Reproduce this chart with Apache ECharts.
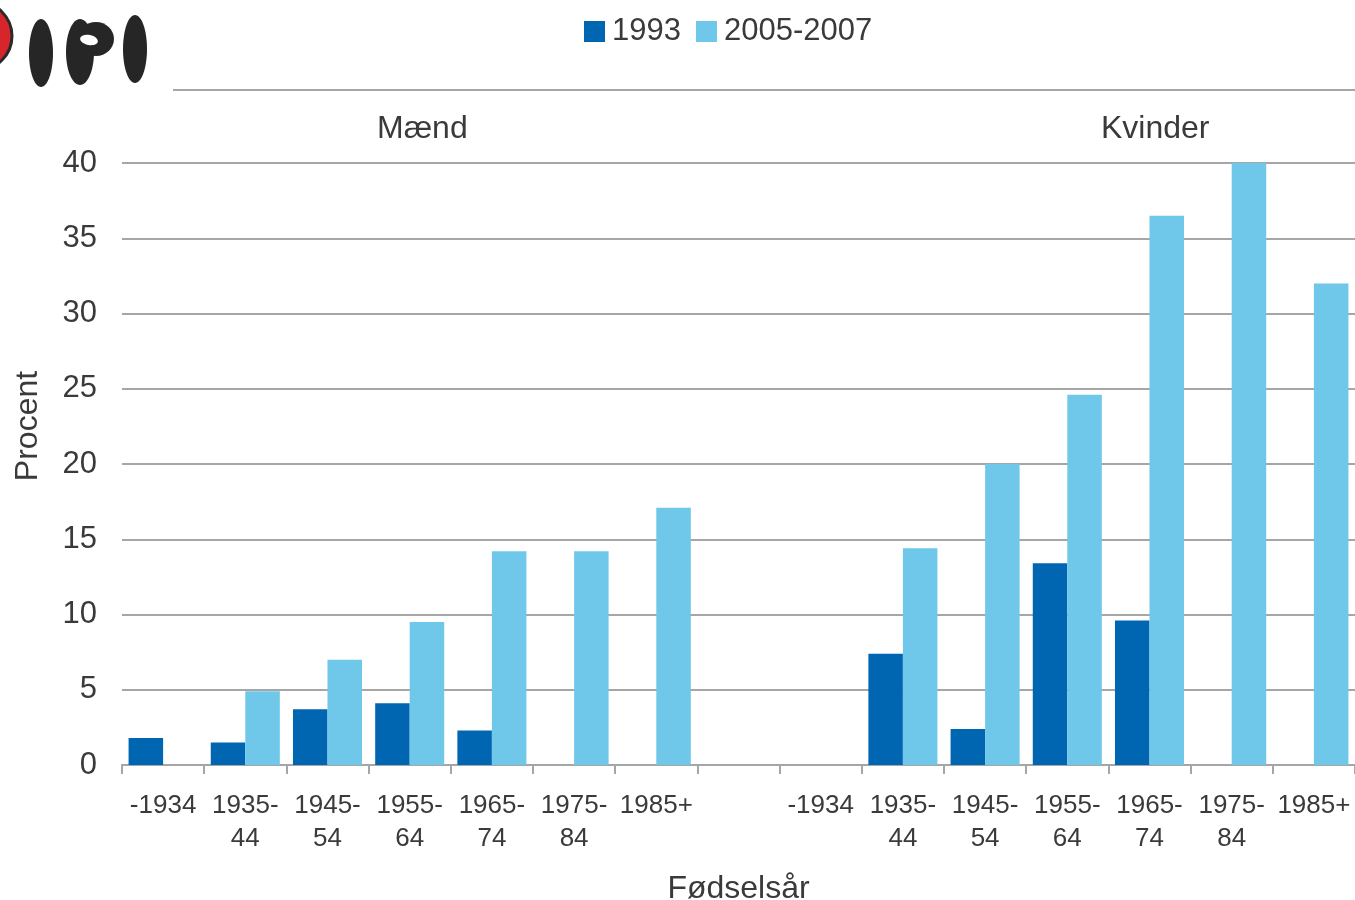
<!DOCTYPE html>
<html>
<head>
<meta charset="utf-8">
<script src="https://cdn.jsdelivr.net/npm/echarts@6/dist/echarts.min.js"></script>
<style>
  html, body { margin: 0; padding: 0; background: #fff; }
  #chart { width: 1355px; height: 900px; }
</style>
</head>
<body>
<div id="chart"></div>
<script>
const categories = [
  "-1934", "1935-\n44", "1945-\n54", "1955-\n64", "1965-\n74", "1975-\n84", "1985+",
  "",
  "-1934", "1935-\n44", "1945-\n54", "1955-\n64", "1965-\n74", "1975-\n84", "1985+"
];
const values1993 = [1.8, 1.5, 3.7, 4.1, 2.3, null, null, null, null, 7.4, 2.4, 13.4, 9.6, null, null];
const values2005 = [null, 4.9, 7.0, 9.5, 14.2, 14.2, 17.1, null, null, 14.4, 20.0, 24.6, 36.5, 40.0, 32.0];
const groupLabels = ["Mænd", "Kvinder"];

const FONT = "'Liberation Sans', Arial, sans-serif";
const TEXT = "#3a3a3a";
const GRID = "#a6a6a6";

const chart = echarts.init(document.getElementById("chart"));

chart.setOption({
  animation: false,
  textStyle: { fontFamily: FONT, color: TEXT },
  legend: {
    left: 579,
    top: 11,
    icon: "rect",
    itemWidth: 21,
    itemHeight: 21,
    itemGap: 15,
    textStyle: { fontFamily: FONT, fontSize: 31, color: TEXT, padding: [0, 0, 0, 2] },
    data: ["1993", "2005-2007"]
  },
  grid: { left: 122, right: 0, top: 163, bottom: 135, containLabel: false, outerBoundsMode: "none" },
  xAxis: {
    type: "category",
    data: categories,
    name: "Fødselsår",
    nameLocation: "middle",
    nameGap: 108,
    nameTextStyle: { fontFamily: FONT, fontSize: 32, color: TEXT },
    axisLine: { show: true, lineStyle: { color: GRID, width: 2 } },
    axisTick: { show: true, length: 9, lineStyle: { color: GRID, width: 2 } },
    axisLabel: {
      interval: 0,
      margin: 24,
      fontFamily: FONT,
      fontSize: 26,
      lineHeight: 33,
      color: TEXT
    }
  },
  yAxis: {
    type: "value",
    min: 0,
    max: 40,
    interval: 5,
    axisLine: { show: false },
    axisTick: { show: false },
    axisLabel: { margin: 25, fontFamily: FONT, fontSize: 31, color: TEXT },
    splitLine: { lineStyle: { color: GRID, width: 2 } }
  },
  graphic: [
    // logo
    { type: "circle", shape: { cx: -22, cy: 36, r: 34 }, style: { fill: "#d7262b", stroke: "#2a2a2a", lineWidth: 3 } },
    { type: "ellipse", shape: { cx: 41, cy: 53, rx: 12, ry: 34 }, style: { fill: "#262626" } },
    { type: "ellipse", shape: { cx: 80, cy: 52, rx: 14, ry: 33 }, style: { fill: "#262626" } },
    { type: "ellipse", shape: { cx: 96, cy: 39, rx: 18, ry: 17 }, style: { fill: "#262626" } },
    { type: "ellipse", shape: { cx: 89, cy: 40, rx: 9, ry: 5 }, rotation: -0.2, origin: [89, 40], style: { fill: "#fff" } },
    { type: "ellipse", shape: { cx: 135, cy: 49, rx: 12, ry: 34 }, style: { fill: "#262626" } },
    // header rule
    { type: "line", shape: { x1: 173, y1: 90, x2: 1355, y2: 90 }, style: { stroke: GRID, lineWidth: 2 } },
    // group labels
    { type: "text", left: 377, top: 113, style: { text: groupLabels[0], fontFamily: FONT, fontSize: 32, fill: TEXT } },
    { type: "text", left: 1101, top: 113, style: { text: groupLabels[1], fontFamily: FONT, fontSize: 32, fill: TEXT } },
    // y axis title
    {
      type: "text", x: 28, y: 426, rotation: Math.PI / 2,
      style: { text: "Procent", fontFamily: FONT, fontSize: 32, fill: TEXT, align: "center", verticalAlign: "middle" }
    }
  ],
  series: [
    {
      name: "1993",
      type: "bar",
      data: values1993,
      barGap: "0%",
      barCategoryGap: "16%",
      itemStyle: { color: "#0066b2" }
    },
    {
      name: "2005-2007",
      type: "bar",
      data: values2005,
      barGap: "0%",
      barCategoryGap: "16%",
      itemStyle: { color: "#6fc8ea" }
    }
  ]
});
</script>
</body>
</html>
